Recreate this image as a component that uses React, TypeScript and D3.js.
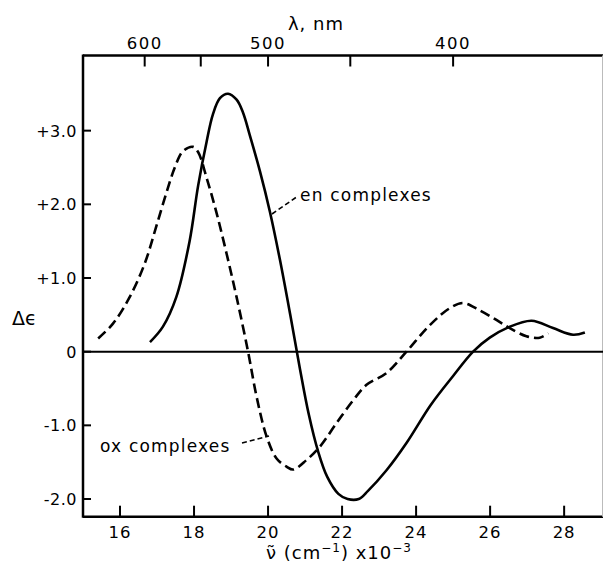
import { useMemo } from "react";
import * as d3 from "d3";

// wavenumber (x10^3 cm^-1) and delta epsilon
const enNu = [16.81, 17.16, 17.52, 17.88, 18.11, 18.34, 18.51, 18.7, 18.92, 19.15, 19.32, 19.5, 19.78, 20.05, 20.32, 20.6, 20.85, 21.1, 21.35, 21.6, 21.9, 22.15, 22.45, 22.7, 23.2, 23.74, 24.4, 25.0, 25.54, 25.99, 26.49, 27.12, 27.7, 28.24, 28.56];
const enDe = [0.13, 0.34, 0.74, 1.5, 2.25, 2.85, 3.22, 3.44, 3.5, 3.42, 3.25, 2.95, 2.45, 1.9, 1.25, 0.5, -0.2, -0.85, -1.35, -1.7, -1.93, -2.0, -2.0, -1.89, -1.61, -1.24, -0.72, -0.33, 0.0, 0.19, 0.33, 0.42, 0.32, 0.23, 0.26];

const oxNu = [15.41, 15.81, 16.26, 16.67, 16.98, 17.25, 17.48, 17.7, 17.97, 18.11, 18.34, 18.61, 18.88, 19.15, 19.46, 19.69, 19.96, 20.23, 20.5, 20.68, 21.04, 21.4, 21.85, 22.3, 22.66, 23.2, 23.74, 24.37, 24.91, 25.27, 25.72, 26.17, 26.53, 26.98, 27.34, 27.57];
const oxDe = [0.18, 0.38, 0.74, 1.2, 1.7, 2.15, 2.5, 2.72, 2.78, 2.71, 2.36, 1.88, 1.33, 0.74, 0.0, -0.61, -1.15, -1.45, -1.56, -1.6, -1.47, -1.29, -0.97, -0.66, -0.45, -0.29, 0.0, 0.36, 0.59, 0.66, 0.56, 0.43, 0.32, 0.21, 0.19, 0.25];

const nuTicks = [16, 18, 20, 22, 24, 26, 28];
const deTicks = [3, 2, 1, 0, -1, -2];
const deLabels = ["+3.0", "+2.0", "+1.0", "0", "-1.0", "-2.0"];
const lamTicks = [600, 550, 500, 450, 400];
const lamLabeled = [600, 500, 400];

const W = 603;
const H = 564;
const font = "'DejaVu Sans', sans-serif";

export default function App() {
  const x = d3.scaleLinear().domain([15, 29.05]).range([83, 603]);
  const y = d3.scaleLinear().domain([-2.24, 4.02]).range([516.7, 55.5]);

  const line = d3
    .line<[number, number]>()
    .x((d) => x(d[0]))
    .y((d) => y(d[1]))
    .curve(d3.curveCatmullRom.alpha(0.5));

  const enPath = useMemo(() => line(enNu.map((n, i) => [n, enDe[i]])), []);
  const oxPath = useMemo(() => line(oxNu.map((n, i) => [n, oxDe[i]])), []);

  const x0 = x(15);
  const x1 = 603;
  const yTop = y(4.02);
  const yBot = y(-2.24);

  return (
    <svg
      width={W}
      height={H}
      style={{ position: "absolute", left: 0, top: 0, background: "#fff" }}
      fontFamily={font}
    >
      {/* frame */}
      <line x1={x0} x2={x1} y1={yTop} y2={yTop} stroke="#000" strokeWidth={2.5} />
      <line x1={x0} x2={x1} y1={yBot} y2={yBot} stroke="#000" strokeWidth={2.5} />
      <line x1={x0} x2={x0} y1={yTop - 1} y2={yBot + 1} stroke="#000" strokeWidth={2.5} />
      <line x1={x1 - 0.5} x2={x1 - 0.5} y1={yTop} y2={yBot} stroke="#bbb" strokeWidth={1} />
      {/* zero line */}
      <line x1={x0} x2={x1} y1={y(0)} y2={y(0)} stroke="#000" strokeWidth={2} />

      {/* bottom ticks */}
      {nuTicks.map((t) => (
        <g key={"b" + t}>
          <line x1={x(t)} x2={x(t)} y1={yBot} y2={yBot - 11} stroke="#000" strokeWidth={2} />
          <text x={x(t)} y={538} fontSize={16.5} textAnchor="middle" letterSpacing={1}>
            {t}
          </text>
        </g>
      ))}

      {/* top ticks, wavelength */}
      {lamTicks.map((l) => (
        <g key={"t" + l}>
          <line x1={x(1e4 / l)} x2={x(1e4 / l)} y1={yTop} y2={yTop + 11} stroke="#000" strokeWidth={2} />
          {lamLabeled.includes(l) && (
            <text x={x(1e4 / l)} y={48.5} fontSize={16.5} textAnchor="middle" letterSpacing={1.5}>
              {l}
            </text>
          )}
        </g>
      ))}

      {/* left ticks */}
      {deTicks.map((t, i) => (
        <g key={"l" + t}>
          <line x1={x0} x2={x0 + 8} y1={y(t)} y2={y(t)} stroke="#000" strokeWidth={2} />
          <text x={77} y={y(t) + 6} fontSize={16} textAnchor="end" letterSpacing={0.5}>
            {deLabels[i]}
          </text>
        </g>
      ))}

      {/* curves */}
      <path d={enPath ?? ""} fill="none" stroke="#000" strokeWidth={2.6} strokeLinejoin="round" />
      <path d={oxPath ?? ""} fill="none" stroke="#000" strokeWidth={2.6} strokeDasharray="10,5" />

      {/* labels */}
      <line x1={272} y1={214} x2={298} y2={196} stroke="#000" strokeWidth={1.6} strokeDasharray="5,3" />
      <text x={300} y={201} fontSize={17} letterSpacing={1.2}>
        en complexes
      </text>
      <line x1={242} y1={443} x2={269} y2={436} stroke="#000" strokeWidth={1.6} strokeDasharray="5,3" />
      <text x={100} y={452} fontSize={17} letterSpacing={1.2}>
        ox complexes
      </text>

      <text x={12} y={325} fontSize={19}>
        Δϵ
      </text>

      <text x={316} y={30} fontSize={18} textAnchor="middle" letterSpacing={1}>
        λ, nm
      </text>

      <text x={339} y={559} fontSize={18} textAnchor="middle" letterSpacing={1}>
        {"ν\u0303 (cm"}
        <tspan dy={-7} fontSize={12}>
          −1
        </tspan>
        <tspan dy={7}>{") x10"}</tspan>
        <tspan dy={-7} fontSize={12}>
          −3
        </tspan>
      </text>
    </svg>
  );
}
